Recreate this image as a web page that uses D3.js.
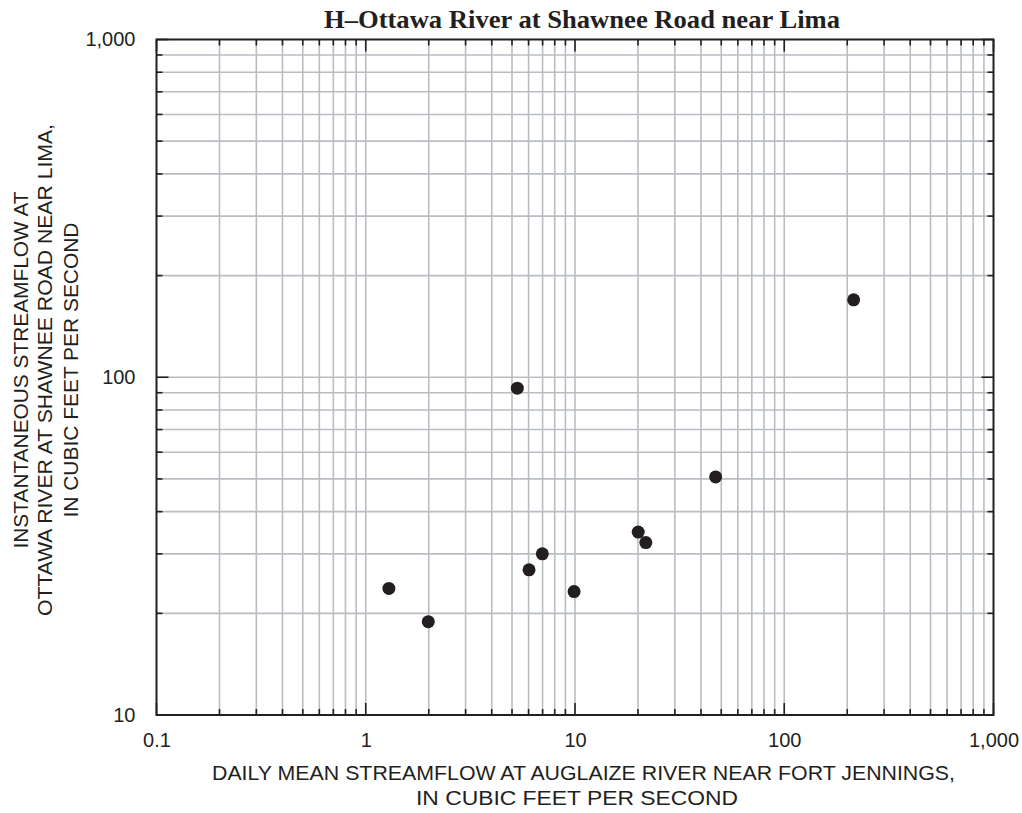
<!DOCTYPE html>
<html>
<head>
<meta charset="utf-8">
<script src="https://cdn.jsdelivr.net/npm/d3@7"></script>
<style>
  body { margin: 0; background: #fff; }
  svg { display: block; }
</style>
</head>
<body>
<svg id="chart" width="1022" height="813"></svg>
<script>
// values
const dailyMean = [1.29, 1.99, 5.3, 6.03, 6.98, 9.9, 20.05, 21.8, 47, 214.6];
const instantaneous = [23.7, 18.9, 92.8, 26.9, 30.0, 23.2, 34.8, 32.4, 50.7, 169.5];

const xLabelTicks = [0.1, 1, 10, 100, 1000];
const yLabelTicks = [10, 100, 1000];
const titleText = "H\u2013Ottawa River at Shawnee Road near Lima";
const xTitle = ["DAILY MEAN STREAMFLOW AT AUGLAIZE RIVER NEAR FORT JENNINGS,", "IN CUBIC FEET PER SECOND"];
const yTitle = ["INSTANTANEOUS STREAMFLOW AT", "OTTAWA RIVER AT SHAWNEE ROAD NEAR LIMA,", "IN CUBIC FEET PER SECOND"];

function draw() {
    const svg = d3.select("#chart");
    const left = 156.5, right = 993.5, top = 39.5, bottom = 715;
    const gridColor = "#b9bdc2";
    const sans = "'Liberation Sans', Arial, sans-serif";

    const x = d3.scaleLog().domain([0.1, 1000]).range([left, right]);
    const y = d3.scaleLog().domain([10, 1000]).range([bottom, top]);

    // all 1..9 ticks per decade
    const minorX = x.ticks();
    const minorY = y.ticks();
    const isMajor = v => Math.abs(Math.log10(v) - Math.round(Math.log10(v))) < 1e-9;

    // grid
    svg.append("g")
        .selectAll("line")
        .data(minorX.filter(v => v > 0.1 && v < 1000))
        .join("line")
        .attr("x1", d => x(d)).attr("x2", d => x(d))
        .attr("y1", top).attr("y2", bottom)
        .attr("stroke", gridColor).attr("stroke-width", 1.6);
    svg.append("g")
        .selectAll("line")
        .data(minorY.filter(v => v > 10 && v < 1000))
        .join("line")
        .attr("y1", d => y(d)).attr("y2", d => y(d))
        .attr("x1", left).attr("x2", right)
        .attr("stroke", gridColor).attr("stroke-width", 1.6);

    // inward ticks on all four sides
    const tickLen = v => isMajor(v) ? 12 : 6;
    const ticks = svg.append("g").attr("stroke", "#231f20").attr("stroke-width", 1.6);
    ticks.append("g").selectAll("line").data(minorX).join("line")
        .attr("x1", d => x(d)).attr("x2", d => x(d))
        .attr("y1", bottom).attr("y2", d => bottom - tickLen(d));
    ticks.append("g").selectAll("line").data(minorX).join("line")
        .attr("x1", d => x(d)).attr("x2", d => x(d))
        .attr("y1", top).attr("y2", d => top + tickLen(d));
    ticks.append("g").selectAll("line").data(minorY).join("line")
        .attr("y1", d => y(d)).attr("y2", d => y(d))
        .attr("x1", left).attr("x2", d => left + tickLen(d));
    ticks.append("g").selectAll("line").data(minorY).join("line")
        .attr("y1", d => y(d)).attr("y2", d => y(d))
        .attr("x1", right).attr("x2", d => right - tickLen(d));

    // frame
    svg.append("rect")
        .attr("x", left).attr("y", top)
        .attr("width", right - left).attr("height", bottom - top)
        .attr("fill", "none").attr("stroke", "#231f20").attr("stroke-width", 2);

    // tick labels through axes
    const fmt = d3.format(",");
    const xAxis = svg.append("g")
        .attr("transform", `translate(0,${bottom})`)
        .call(d3.axisBottom(x).tickValues(xLabelTicks).tickSize(0).tickPadding(18)
            .tickFormat(d => d < 1 ? "0.1" : fmt(d)));
    const yAxis = svg.append("g")
        .attr("transform", `translate(${left},0)`)
        .call(d3.axisLeft(y).tickValues(yLabelTicks).tickSize(0).tickPadding(21)
            .tickFormat(fmt));
    [xAxis, yAxis].forEach(a => {
        a.select(".domain").remove();
        a.selectAll("text")
            .attr("font-family", sans).attr("font-size", 20).attr("fill", "#231f20");
    });

    // points
    const pts = dailyMean.map((v, i) => ({ x: v, y: instantaneous[i] }));
    svg.append("g").selectAll("circle").data(pts).join("circle")
        .attr("cx", d => x(d.x)).attr("cy", d => y(d.y))
        .attr("r", 6.5).attr("fill", "#231f20");

    // title
    svg.append("text")
        .attr("x", 582).attr("y", 28)
        .attr("text-anchor", "middle")
        .attr("font-family", "'Liberation Serif', 'Times New Roman', serif")
        .attr("font-weight", "bold").attr("font-size", 25).attr("fill", "#231f20")
        .attr("textLength", 516).attr("lengthAdjust", "spacingAndGlyphs")
        .text(titleText);

    // x axis title
    const xLens = [743, 322];
    const xBase = [780, 805];
    xTitle.forEach((t, i) => {
        svg.append("text")
            .attr("x", i === 0 ? 583.5 : 577).attr("y", xBase[i])
            .attr("text-anchor", "middle")
            .attr("font-family", sans).attr("font-size", 20).attr("fill", "#231f20")
            .attr("textLength", xLens[i]).attr("lengthAdjust", "spacingAndGlyphs")
            .text(t);
    });

    // y axis title
    const yLens = [357, 492, 295];
    const yBase = [28.3, 51.7, 78.3];
    yTitle.forEach((t, i) => {
        svg.append("text")
            .attr("transform", `translate(${yBase[i]},370) rotate(-90)`)
            .attr("text-anchor", "middle")
            .attr("font-family", sans).attr("font-size", 20).attr("fill", "#231f20")
            .attr("textLength", yLens[i]).attr("lengthAdjust", "spacingAndGlyphs")
            .text(t);
    });
}

draw();
</script>
</body>
</html>
